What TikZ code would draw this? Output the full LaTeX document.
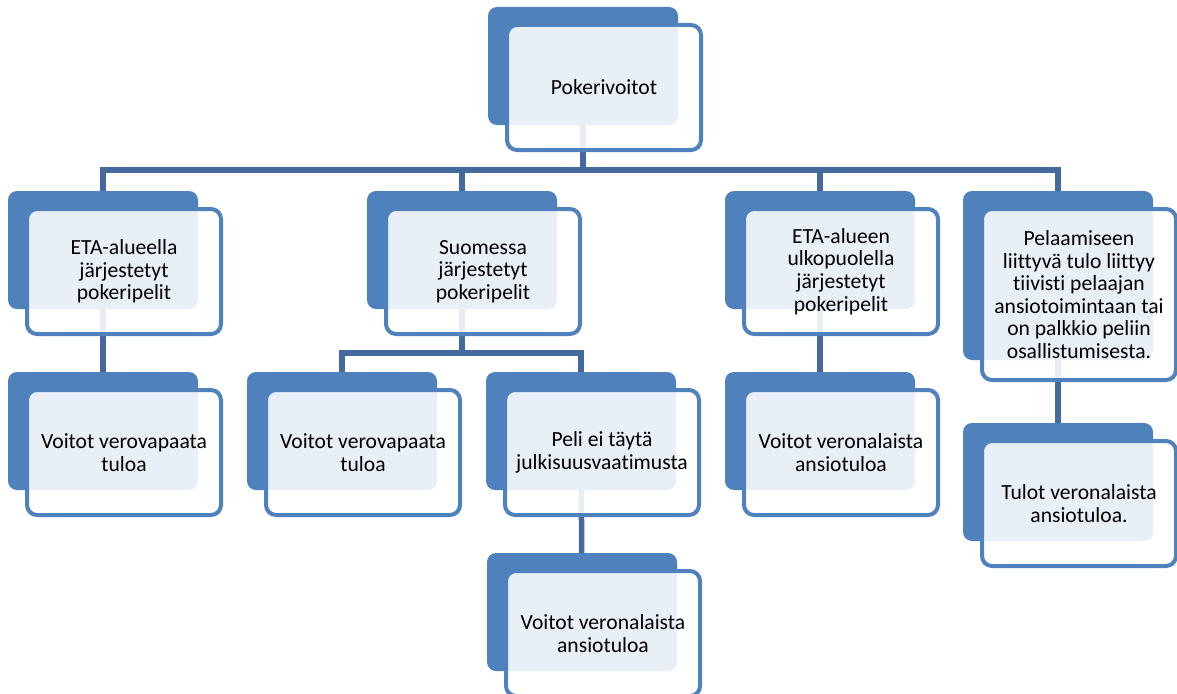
\documentclass[tikz,border=0pt]{standalone}
\usepackage{fontspec}
\setmainfont{Carlito}[Ligatures=NoCommon]
\usetikzlibrary{positioning, backgrounds}

\definecolor{boxblue}{HTML}{4F81BD}
\definecolor{linkblue}{HTML}{43699E}

\begin{document}
\begin{tikzpicture}[x=1pt, y=-1pt,
    backbox/.style={fill=boxblue, rounded corners=9pt, inner sep=0pt, outer sep=0pt,
        minimum width=190pt, minimum height=118pt, anchor=north west},
    frontbox/.style={draw=boxblue, line width=4pt, fill=white, fill opacity=0.88, text opacity=1,
        rounded corners=10pt, inner sep=0pt, outer sep=0pt, align=center, anchor=north west,
        minimum width=194pt, minimum height=125pt, font=\fontsize{21.6}{22.6}\selectfont},
    conn/.style={draw=linkblue, line width=5.5pt}]
    \useasboundingbox (0,0) rectangle (1177,693);

    % Back plates
    \node[backbox] (topB) at (488,7) {};
    \node[backbox] (etaB) at (8,191) {};
    \node[backbox] (suoB) at (367,191) {};
    \node[backbox] (ulkoB) at (725,191) {};
    \node[backbox, minimum height=169pt] (pelB) at (963,191) {};
    \node[backbox] (etaVB) at (8,372) {};
    \node[backbox] (suoVB) at (247,372) {};
    \node[backbox] (peliB) at (486,372) {};
    \node[backbox] (peliVB) at (487,553) {};
    \node[backbox] (ulkoVB) at (725,372) {};
    \node[backbox] (pelTB) at (963,423) {};

    % Front boxes with text
    \node[frontbox] (top) at ([shift={(19,18)}]topB.north west) {Pokerivoitot};
    \node[frontbox] (eta) at ([shift={(19,18)}]etaB.north west) {ETA-alueella\\järjestetyt\\pokeripelit};
    \node[frontbox] (suo) at ([shift={(19,18)}]suoB.north west) {Suomessa\\järjestetyt\\pokeripelit};
    \node[frontbox] (ulko) at ([shift={(19,18)}]ulkoB.north west) {ETA-alueen\\ulkopuolella\\järjestetyt\\pokeripelit};
    \node[frontbox, minimum height=171pt] (pel) at ([shift={(19,18)}]pelB.north west)
        {Pelaamiseen\\liittyvä tulo liittyy\\tiivisti pelaajan\\ansiotoimintaan tai\\on palkkio peliin\\osallistumisesta.};
    \node[frontbox] (etaV) at ([shift={(19,18)}]etaVB.north west) {Voitot verovapaata\\tuloa};
    \node[frontbox] (suoV) at ([shift={(19,18)}]suoVB.north west) {Voitot verovapaata\\tuloa};
    \node[frontbox] (peli) at ([shift={(19,18)}]peliB.north west) {Peli ei täytä\\julkisuusvaatimusta};
    \node[frontbox] (peliV) at ([shift={(19,18)}]peliVB.north west) {Voitot veronalaista\\ansiotuloa};
    \node[frontbox] (ulkoV) at ([shift={(19,18)}]ulkoVB.north west) {Voitot veronalaista\\ansiotuloa};
    \node[frontbox] (pelT) at ([shift={(19,18)}]pelTB.north west) {Tulot veronalaista\\ansiotuloa.};

    \coordinate (bus) at (0,170);
    \coordinate (subbus) at (0,353);

    % Connectors
    \begin{scope}[on background layer]
        \draw[conn] (topB.center) -- (topB.center |- bus) -| (etaB.center);
        \draw[conn] (topB.center |- bus) -| (suoB.center);
        \draw[conn] (topB.center |- bus) -| (ulkoB.center);
        \draw[conn] (topB.center |- bus) -| (pelB.center);
        \draw[conn] (etaB.center) -- (etaVB.center);
        \draw[conn] (suoB.center) -- (suoB.center |- subbus) -| (suoVB.center);
        \draw[conn] (suoB.center |- subbus) -| (peliB.center);
        \draw[conn] (peliB.center) -- (peliVB.center);
        \draw[conn] (ulkoB.center) -- (ulkoVB.center);
        \draw[conn] (pelB.center) -- (pelTB.center);
    \end{scope}
\end{tikzpicture}
\end{document}
